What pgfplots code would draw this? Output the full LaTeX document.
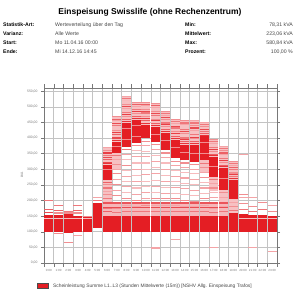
\documentclass[border=0pt]{standalone}
\usepackage{pgfplots}
\pgfplotsset{compat=1.18}
\usepackage{pgfplotstable}
\usepackage{fontspec}
\setmainfont{Liberation Sans}
\definecolor{hred}{RGB}{228,30,36}
\definecolor{txtgray}{RGB}{120,120,120}
\definecolor{valgray}{RGB}{70,70,70}
\definecolor{gridgray}{RGB}{195,195,195}
\definecolor{axgray}{RGB}{120,120,120}

% base band: x, center, half-height (kVA)
\pgfplotstableread{
x y e
0.5 126.5 28.5
1.5 126.5 28.5
2.5 127.5 30.5
3.5 125 27
4.5 123 23
5.5 152 40
6.5 124 26
7.5 124 26
8.5 124 26
9.5 124 26
10.5 124 26
11.5 124 26
12.5 124 26
13.5 124 26
14.5 124 26
15.5 124 26
16.5 124 26
17.5 124 26
18.5 124 26
19.5 129 31
20.5 128 30
21.5 126.5 28.5
22.5 126.5 28.5
23.5 125 25
}\baseband

% dense core bands
\pgfplotstableread{
x y e
6.5 290 24
7.5 370 18
8.5 410.5 38.5
9.5 421.5 36.5
10.5 421 21
11.5 412 24
12.5 389.5 27.5
13.5 365.5 28.5
14.5 354 24
15.5 351 27
16.5 367.5 37.5
17.5 308 32
18.5 269 35
19.5 235.5 30.5
}\coreband

% sparse (light) ranges
\pgfplotstableread{
x y e
6.5 341.5 27.5
6.5 213 53
7.5 428 40
7.5 326 26
8.5 490.5 41.5
9.5 485.5 27.5
10.5 477.5 35.5
11.5 473 37
12.5 450.5 33.5
13.5 426 32
14.5 416.5 38.5
15.5 416.5 38.5
16.5 427 22
16.5 310 20
17.5 367 27
17.5 253 23
18.5 338 34
18.5 197 37
19.5 295 29
19.5 182.5 22.5
}\lightband

% medium ranges
\pgfplotstableread{
x y e
6.5 172.5 22.5
7.5 172.5 22.5
8.5 172.5 22.5
9.5 172.5 22.5
10.5 172.5 22.5
11.5 172.5 22.5
12.5 172.5 22.5
13.5 172.5 22.5
14.5 172.5 22.5
15.5 172.5 22.5
16.5 172.5 22.5
17.5 172.5 22.5
18.5 172.5 22.5
}\midband

% single lines: x, value, intensity
\pgfplotstableread{
x y c
0.5 199 0.6
0.5 170 0.7
0.5 161 0.8
0.5 141 0.25
1.5 183 0.6
1.5 168 0.7
1.5 160 0.5
1.5 93 0.5
1.5 141 0.25
2.5 165 0.6
2.5 160 0.5
2.5 65 0.5
2.5 141 0.3
3.5 183 0.6
3.5 168 0.7
3.5 160 0.5
3.5 87 0.4
3.5 141 0.3
4.5 150 0.5
4.5 141 0.3
5.5 200 0.6
5.5 210 0.4
6.5 369 0.4
6.5 360 0.5
6.5 345 0.6
6.5 330 0.7
6.5 322 0.8
6.5 318 0.9
6.5 338 0.8
6.5 352 0.85
6.5 300 0.5
6.5 258 0.7
6.5 250 0.5
6.5 240 0.6
6.5 230 0.4
6.5 220 0.5
6.5 205 0.6
6.5 190 0.5
6.5 175 0.6
6.5 165 0.7
7.5 468 0.5
7.5 455 0.4
7.5 440 0.6
7.5 425 0.5
7.5 412 0.7
7.5 400 0.8
7.5 392 0.9
7.5 418 0.85
7.5 446 0.8
7.5 460 0.7
7.5 372 0.5
7.5 343 0.6
7.5 330 0.4
7.5 315 0.5
7.5 300 0.4
7.5 285 0.5
7.5 268 0.4
7.5 250 0.5
7.5 232 0.4
7.5 215 0.5
7.5 195 0.6
7.5 175 0.5
7.5 162 0.6
8.5 532 0.4
8.5 520 0.3
8.5 508 0.5
8.5 495 0.4
8.5 482 0.6
8.5 470 0.5
8.5 460 0.7
8.5 453 0.9
8.5 476 0.85
8.5 500 0.8
8.5 525 0.6
8.5 430 0.5
8.5 395 0.5
8.5 362 0.6
8.5 348 0.4
8.5 330 0.3
8.5 312 0.5
8.5 295 0.3
8.5 278 0.4
8.5 262 0.3
8.5 245 0.4
8.5 225 0.3
8.5 205 0.5
8.5 185 0.4
8.5 165 0.6
9.5 513 0.5
9.5 502 0.4
9.5 490 0.6
9.5 478 0.5
9.5 468 0.7
9.5 462 0.9
9.5 484 0.85
9.5 507 0.7
9.5 440 0.5
9.5 405 0.5
9.5 375 0.5
9.5 360 0.3
9.5 340 0.4
9.5 320 0.3
9.5 300 0.4
9.5 280 0.3
9.5 260 0.4
9.5 240 0.3
9.5 220 0.4
9.5 200 0.5
9.5 180 0.4
9.5 165 0.6
10.5 513 0.5
10.5 505 0.4
10.5 492 0.5
10.5 480 0.6
10.5 468 0.5
10.5 455 0.7
10.5 447 0.9
10.5 462 0.85
10.5 486 0.8
10.5 508 0.7
10.5 390 0.5
10.5 375 0.4
10.5 358 0.3
10.5 340 0.4
10.5 320 0.3
10.5 300 0.3
10.5 282 0.4
10.5 262 0.3
10.5 245 0.3
10.5 225 0.4
10.5 205 0.4
10.5 185 0.5
10.5 165 0.6
11.5 510 0.5
11.5 498 0.4
11.5 486 0.5
11.5 472 0.6
11.5 460 0.5
11.5 447 0.7
11.5 441 0.9
11.5 455 0.85
11.5 478 0.8
11.5 503 0.7
11.5 410 0.5
11.5 378 0.5
11.5 362 0.4
11.5 345 0.3
11.5 325 0.4
11.5 305 0.3
11.5 285 0.4
11.5 265 0.3
11.5 245 0.4
11.5 225 0.3
11.5 205 0.5
11.5 185 0.4
11.5 165 0.6
11.5 48 0.4
12.5 484 0.5
12.5 472 0.4
12.5 460 0.5
12.5 448 0.6
12.5 437 0.5
12.5 427 0.7
12.5 421 0.9
12.5 443 0.85
12.5 466 0.8
12.5 478 0.6
12.5 392 0.5
12.5 352 0.5
12.5 338 0.4
12.5 320 0.3
12.5 300 0.4
12.5 280 0.3
12.5 262 0.4
12.5 242 0.3
12.5 222 0.4
12.5 205 0.5
12.5 185 0.4
12.5 165 0.6
13.5 458 0.5
13.5 446 0.4
13.5 432 0.6
13.5 420 0.5
13.5 405 0.7
13.5 398 0.9
13.5 414 0.85
13.5 438 0.8
13.5 452 0.6
13.5 370 0.5
13.5 326 0.5
13.5 312 0.4
13.5 295 0.3
13.5 278 0.4
13.5 260 0.3
13.5 242 0.4
13.5 222 0.3
13.5 205 0.5
13.5 185 0.4
13.5 165 0.6
13.5 74 0.4
14.5 455 0.5
14.5 442 0.4
14.5 428 0.6
14.5 415 0.5
14.5 400 0.6
14.5 388 0.7
14.5 382 0.9
14.5 395 0.85
14.5 420 0.8
14.5 448 0.6
14.5 355 0.5
14.5 320 0.5
14.5 305 0.4
14.5 290 0.3
14.5 272 0.4
14.5 255 0.3
14.5 238 0.4
14.5 220 0.3
14.5 200 0.5
14.5 182 0.4
14.5 165 0.6
15.5 455 0.4
15.5 440 0.5
15.5 425 0.4
15.5 410 0.6
15.5 398 0.5
15.5 388 0.7
15.5 382 0.9
15.5 403 0.85
15.5 432 0.8
15.5 448 0.6
15.5 350 0.5
15.5 314 0.5
15.5 300 0.4
15.5 285 0.3
15.5 268 0.4
15.5 250 0.3
15.5 232 0.4
15.5 215 0.3
15.5 198 0.5
15.5 180 0.4
15.5 165 0.6
16.5 449 0.4
16.5 436 0.5
16.5 422 0.6
16.5 415 0.7
16.5 409 0.9
16.5 428 0.8
16.5 443 0.6
16.5 385 0.5
16.5 350 0.5
16.5 318 0.6
16.5 305 0.5
16.5 290 0.4
16.5 275 0.5
16.5 258 0.3
16.5 240 0.4
16.5 222 0.3
16.5 205 0.5
16.5 185 0.4
16.5 165 0.6
17.5 394 0.5
17.5 382 0.4
17.5 370 0.6
17.5 358 0.5
17.5 348 0.7
17.5 344 0.9
17.5 364 0.85
17.5 388 0.6
17.5 310 0.5
17.5 268 0.6
17.5 255 0.4
17.5 240 0.5
17.5 225 0.3
17.5 210 0.4
17.5 192 0.5
17.5 175 0.4
17.5 162 0.6
17.5 51 0.4
18.5 372 0.4
18.5 360 0.5
18.5 348 0.4
18.5 335 0.6
18.5 322 0.5
18.5 312 0.7
18.5 308 0.9
18.5 328 0.85
18.5 352 0.7
18.5 366 0.6
18.5 270 0.5
18.5 226 0.5
18.5 210 0.4
18.5 195 0.5
18.5 180 0.4
18.5 165 0.6
19.5 324 0.5
19.5 312 0.4
19.5 300 0.6
19.5 288 0.5
19.5 276 0.6
19.5 270 0.9
19.5 282 0.85
19.5 306 0.7
19.5 318 0.6
19.5 195 0.4
19.5 180 0.5
19.5 168 0.6
20.5 346 0.4
20.5 220 0.5
20.5 211 0.4
20.5 190 0.5
20.5 172 0.6
20.5 141 0.3
21.5 211 0.4
21.5 180 0.5
21.5 165 0.6
21.5 51 0.4
21.5 141 0.3
22.5 195 0.5
22.5 170 0.6
22.5 141 0.3
23.5 185 0.4
23.5 165 0.5
23.5 38 0.4
23.5 141 0.3
6.5 178 0.8
7.5 178 0.8
8.5 178 0.8
9.5 178 0.8
10.5 178 0.8
11.5 178 0.8
12.5 178 0.8
13.5 178 0.8
14.5 178 0.8
15.5 178 0.8
16.5 178 0.8
17.5 178 0.8
18.5 178 0.8
6.5 192 0.75
7.5 192 0.75
8.5 192 0.75
9.5 192 0.75
10.5 192 0.75
11.5 192 0.75
12.5 192 0.75
13.5 192 0.75
14.5 192 0.75
15.5 192 0.75
16.5 192 0.75
17.5 192 0.75
18.5 192 0.75
}\lines

\begin{document}
\begin{tikzpicture}
\begin{axis}[
  name=ax,
  width=233bp, height=175bp, scale only axis,
  xmin=0, xmax=24, ymin=0, ymax=560,
  axis line style={axgray, line width=0.6bp},
  xtick={0.5,1.5,...,23.5},
  xticklabels={0:00,1:00,2:00,3:00,4:00,5:00,6:00,7:00,8:00,9:00,10:00,11:00,12:00,13:00,14:00,15:00,16:00,17:00,18:00,19:00,20:00,21:00,22:00,23:00},
  major x tick style={draw=none},
  minor xtick={0,1,...,24},
  minor x tick style={draw=axgray, line width=0.4bp},
  minor tick length=4bp,
  xminorgrids=true,
  minor x grid style={gridgray, line width=0.5bp},
  ytick={0,50,...,550},
  ymajorgrids=true,
  major y grid style={gridgray, line width=0.5bp},
  major y tick style={draw=axgray, line width=0.4bp},
  major tick length=3bp,
  tick align=outside,
  xticklabel style={font=\fontsize{3}{3.5}\selectfont, text=txtgray},
  yticklabel style={font=\fontsize{3.4}{4}\selectfont, text=txtgray,
    /pgf/number format/fixed, /pgf/number format/fixed zerofill,
    /pgf/number format/precision=2, /pgf/number format/use comma,
    /pgf/number format/1000 sep={}},
  /pgf/number format/assume math mode=true,
  colormap={wr}{rgb255=(255,255,255) rgb255=(228,30,36)},
  point meta min=0, point meta max=1,
  clip=true,
]
\addplot[draw=none, mark=none, forget plot,
  error bars/.cd, y dir=both, y explicit, error mark=none,
  error bar style={draw=hred!28, line width=9bp}]
  table[x=x, y=y, y error=e] {\lightband};
\addplot[draw=none, mark=none, forget plot,
  error bars/.cd, y dir=both, y explicit, error mark=none,
  error bar style={draw=hred!32, line width=9bp}]
  table[x=x, y=y, y error=e] {\midband};
\addplot[draw=none, mark=none, forget plot,
  error bars/.cd, y dir=both, y explicit, error mark=none,
  error bar style={draw=hred, line width=9bp}]
  table[x=x, y=y, y error=e] {\baseband};
\addplot[draw=none, mark=none, forget plot,
  error bars/.cd, y dir=both, y explicit, error mark=none,
  error bar style={draw=hred, line width=9bp}]
  table[x=x, y=y, y error=e] {\coreband};
\addplot[scatter, only marks, mark=-, mark size=4.5bp, point meta=explicit,
  scatter/use mapped color={draw=mapped color},
  mark options={line width=1.1bp}]
  table[x=x, y=y, meta=c] {\lines};
\end{axis}
\begin{scope}[shift={(ax.south west)}, x=1bp, y=1bp, xshift=-44bp, yshift=-37bp]
\path (0,0) rectangle (300,300);
\node[font=\fontsize{8.5}{10}\selectfont\bfseries] at (150,288) {Einspeisung Swisslife (ohne Rechenzentrum)};
\begin{scope}[every node/.style={font=\fontsize{5.2}{6}\selectfont, inner sep=0pt}]
\node[anchor=base west, font=\fontsize{5.2}{6}\selectfont\bfseries] at (3,273.5) {Statistik-Art:};
\node[anchor=base west, font=\fontsize{5.2}{6}\selectfont\bfseries] at (3,264.5) {Varianz:};
\node[anchor=base west, font=\fontsize{5.2}{6}\selectfont\bfseries] at (3,255.5) {Start:};
\node[anchor=base west, font=\fontsize{5.2}{6}\selectfont\bfseries] at (3,246.5) {Ende:};
\node[anchor=base west, text=valgray] at (55,273.5) {Werteverteilung über den Tag};
\node[anchor=base west, text=valgray] at (55,264.5) {Alle Werte};
\node[anchor=base west, text=valgray] at (55,255.5) {Mo 11.04.16 00:00};
\node[anchor=base west, text=valgray] at (55,246.5) {Mi 14.12.16 14:45};
\node[anchor=base west, font=\fontsize{5.2}{6}\selectfont\bfseries] at (185,273.5) {Min:};
\node[anchor=base west, font=\fontsize{5.2}{6}\selectfont\bfseries] at (185,264.5) {Mittelwert:};
\node[anchor=base west, font=\fontsize{5.2}{6}\selectfont\bfseries] at (185,255.5) {Max:};
\node[anchor=base west, font=\fontsize{5.2}{6}\selectfont\bfseries] at (185,246.5) {Prozent:};
\node[anchor=base east, text=valgray] at (293,273.5) {78,31 kVA};
\node[anchor=base east, text=valgray] at (293,264.5) {223,06 kVA};
\node[anchor=base east, text=valgray] at (293,255.5) {580,84 kVA};
\node[anchor=base east, text=valgray] at (293,246.5) {100,00 \%};
\end{scope}
\node[rotate=90, font=\fontsize{3.4}{4}\selectfont, text=txtgray] at (22,125) {kVA};
\draw[fill=hred, draw=black!70, line width=0.4bp] (37,11.5) rectangle (48,17);
\node[anchor=west, inner sep=0pt, font=\fontsize{4.9}{5.5}\selectfont, text=valgray] at (53,14.2) {Scheinleistung Summe L1..L3 (Stunden Mittelwerte (15m)) [NSHV Allg. Einspeisung Trafos]};
\end{scope}
\end{tikzpicture}
\end{document}
